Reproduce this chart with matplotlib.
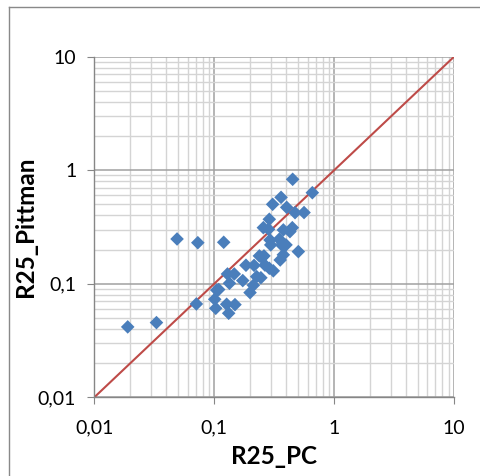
import numpy as np
import matplotlib
matplotlib.use("Agg")
import matplotlib.pyplot as plt
from matplotlib.ticker import LogLocator, FixedLocator, FixedFormatter, NullFormatter

# ---- data ----
r25_pc = [0.019, 0.033, 0.049, 0.073, 0.120, 0.071, 0.105, 0.109, 0.101, 0.103,
          0.127, 0.132, 0.149, 0.129, 0.147, 0.134, 0.173, 0.184, 0.199, 0.212,
          0.215, 0.226, 0.245, 0.238, 0.260, 0.265, 0.288, 0.311, 0.257, 0.284,
          0.288, 0.292, 0.296, 0.307, 0.361, 0.349, 0.365, 0.377, 0.377, 0.355,
          0.397, 0.402, 0.428, 0.448, 0.451, 0.472, 0.561, 0.503, 0.658, 0.250]
r25_pittman = [0.0417, 0.0455, 0.248, 0.230, 0.232, 0.0664, 0.088, 0.089, 0.073, 0.0608,
               0.066, 0.055, 0.0655, 0.122, 0.122, 0.101, 0.1067, 0.1456, 0.0836, 0.097,
               0.1452, 0.1156, 0.113, 0.176, 0.176, 0.146, 0.137, 0.130, 0.312, 0.302,
               0.370, 0.243, 0.220, 0.501, 0.577, 0.247, 0.220, 0.298, 0.180, 0.162,
               0.220, 0.471, 0.288, 0.312, 0.832, 0.423, 0.424, 0.192, 0.634, 0.170]
ref_line = [0.01, 10]
tick_vals = [0.01, 0.1, 1, 10]
tick_labels = ["0,01", "0,1", "1", "10"]

plt.rcParams['font.family'] = ['Lato', 'DejaVu Sans']

fig = plt.figure(figsize=(4.81, 4.76), dpi=100)
ax = fig.add_axes([0.196, 0.1653, 0.748, 0.7156])

# chart area border (Excel style), only top and left visible
fig.add_artist(plt.Line2D([9/481, 1], [1 - 7/476, 1 - 7/476], color='#898989', lw=1))
fig.add_artist(plt.Line2D([9/481, 9/481], [0, 1 - 7/476], color='#898989', lw=1))

ax.set_xscale('log')
ax.set_yscale('log')
ax.set_xlim(0.01, 10)
ax.set_ylim(0.01, 10)

ax.xaxis.set_major_locator(FixedLocator(tick_vals))
ax.yaxis.set_major_locator(FixedLocator(tick_vals))
ax.xaxis.set_major_formatter(FixedFormatter(tick_labels))
ax.yaxis.set_major_formatter(FixedFormatter(tick_labels))
ax.xaxis.set_minor_locator(LogLocator(base=10, subs=np.arange(2, 10)))
ax.yaxis.set_minor_locator(LogLocator(base=10, subs=np.arange(2, 10)))
ax.xaxis.set_minor_formatter(NullFormatter())
ax.yaxis.set_minor_formatter(NullFormatter())

ax.grid(True, which='minor', color='#d4d4d4', lw=1.0)
ax.grid(True, which='major', color='#a0a0a0', lw=1.1)
ax.set_axisbelow(True)

for side in ['top', 'right']:
    ax.spines[side].set_visible(False)
for side in ['left', 'bottom']:
    ax.spines[side].set_color('#868686')
    ax.spines[side].set_linewidth(1.0)

ax.tick_params(which='major', direction='out', length=5, color='#868686',
               labelsize=14, labelcolor='black')
ax.tick_params(axis='x', which='major', pad=11)
ax.tick_params(axis='y', which='major', pad=8)
ax.tick_params(which='minor', length=0)

ax.plot(ref_line, ref_line, color='#be4b48', lw=1.5, zorder=2)
ax.scatter(r25_pc, r25_pittman, marker='D', s=48, color='#4a7ebb',
           edgecolors='none', zorder=3)

ax.set_xlabel("R25_PC", fontsize=17.5, fontweight='bold', labelpad=6)
ax.set_ylabel("R25_Pittman", fontsize=17.5, fontweight='bold', labelpad=0.5)

fig.savefig("out.png", dpi=100)
